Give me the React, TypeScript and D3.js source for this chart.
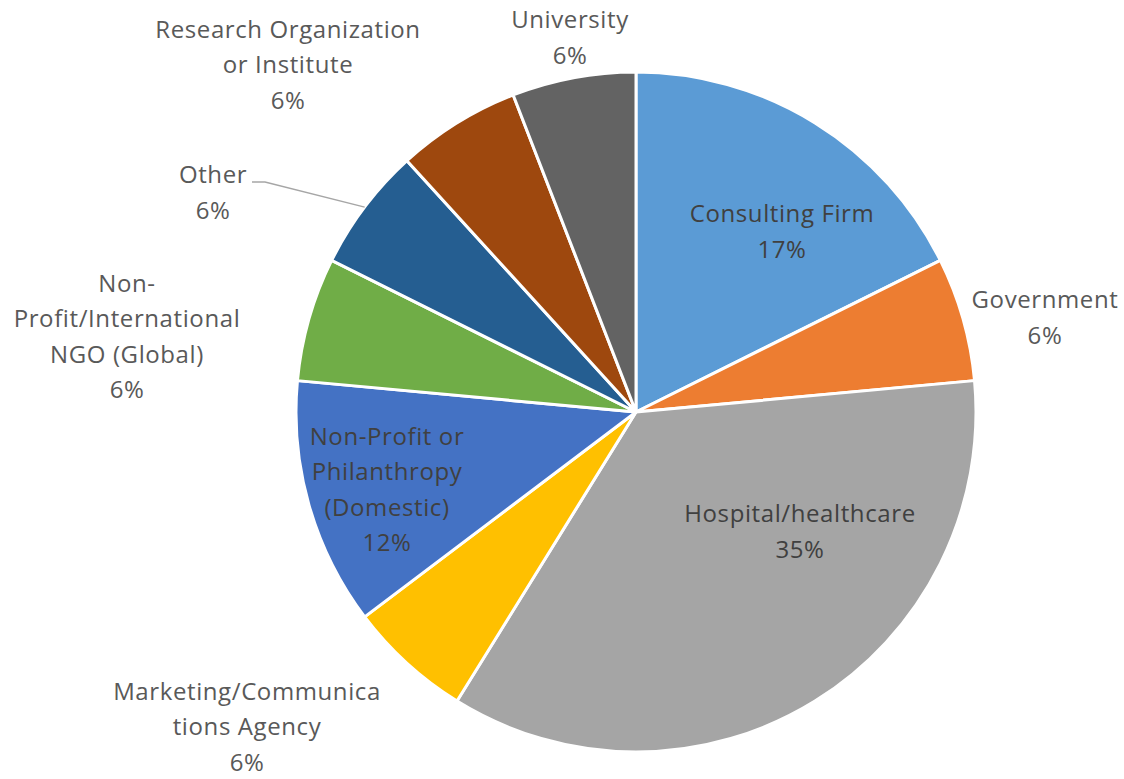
import React from 'react';
import * as d3 from 'd3';

// slices clockwise from 12 o'clock (respondent counts, n = 17)
const categories = [
  'Consulting Firm',
  'Government',
  'Hospital/healthcare',
  'Marketing/Communications Agency',
  'Non-Profit or Philanthropy (Domestic)',
  'Non-Profit/International NGO (Global)',
  'Other',
  'Research Organization or Institute',
  'University',
];
const counts = [3, 1, 6, 1, 2, 1, 1, 1, 1];
const pctLabels = ['17%', '6%', '35%', '6%', '12%', '6%', '6%', '6%', '6%'];
// category names as wrapped in the data labels
const labelLines = [
  ['Consulting Firm'],
  ['Government'],
  ['Hospital/healthcare'],
  ['Marketing/Communica', 'tions Agency'],
  ['Non-Profit or', 'Philanthropy', '(Domestic)'],
  ['Non-', 'Profit/International', 'NGO (Global)'],
  ['Other'],
  ['Research Organization', 'or Institute'],
  ['University'],
];

const colors = ['#5b9bd5', '#ed7d31', '#a5a5a5', '#ffc000', '#4472c4', '#70ad47', '#255e91', '#9e480e', '#636363'];

// layout
const W = 1124;
const H = 779;
const cx = 636;
const cy = 412;
const R = 340;
const lineH = 35.5;
// label block centres relative to the pie centre (Excel "best fit")
const labelOffsets: [number, number][] = [
  [146, -180], [409, -94], [164, 120], [-389, 315], [-249, 78],
  [-509, -75], [-423, -219], [-348, -347], [-66, -374],
];
const insideLabel = [true, false, true, false, true, false, false, false, false];

export default function App() {
  const pie = d3.pie<number>().sort(null).value(d => d);
  const arcs = pie(counts);
  const arc = d3.arc<d3.PieArcDatum<number>>().innerRadius(0).outerRadius(R);
  const edge = d3.arc<d3.PieArcDatum<number>>().innerRadius(R).outerRadius(R);

  const otherIdx = categories.indexOf('Other');
  const otherEnd = edge.centroid(arcs[otherIdx]);
  const otherLbl = labelOffsets[otherIdx];

  return (
    <svg width={W} height={H} style={{ position: 'absolute', left: 0, top: 0, background: '#fff' }}
      fontFamily="'Open Sans', sans-serif" fontSize={24} letterSpacing={0.6}>
      <g transform={`translate(${cx},${cy})`}>
        {arcs.map((a, i) => (
          <path key={categories[i]} d={arc(a) || ''} fill={colors[i]} stroke="#fff" strokeWidth={3} strokeLinejoin="round" />
        ))}
        <polyline
          points={`${otherLbl[0] + 39},${otherLbl[1] - 11} ${otherLbl[0] + 52},${otherLbl[1] - 11} ${otherEnd[0]},${otherEnd[1]}`}
          fill="none" stroke="#a6a6a6" strokeWidth={1.5} />
        {arcs.map((a, i) => {
          const lines = [...labelLines[i], pctLabels[i]];
          const [lx, ly] = labelOffsets[i];
          const top = ly - ((lines.length - 1) * lineH) / 2;
          return (
            <text key={'l' + i} textAnchor="middle" fill={insideLabel[i] ? '#404040' : '#595959'}>
              {lines.map((t, k) => (
                <tspan key={k} x={lx} y={top + k * lineH + 8}>{t}</tspan>
              ))}
            </text>
          );
        })}
      </g>
    </svg>
  );
}
